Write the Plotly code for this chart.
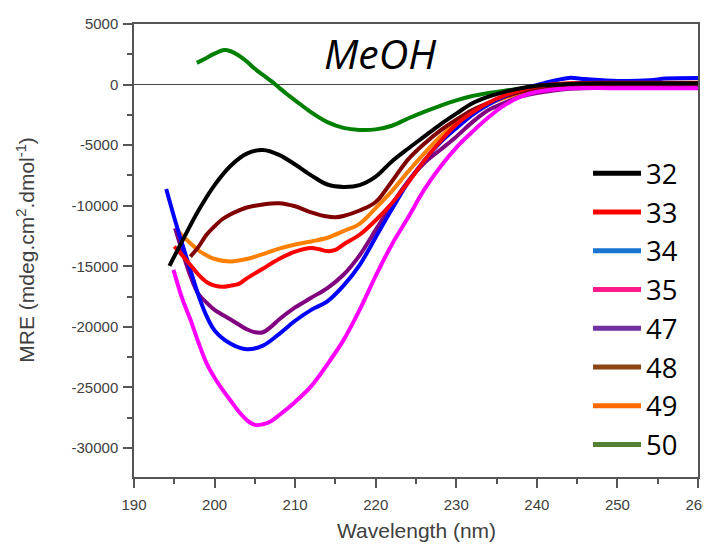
import plotly.graph_objects as go

# CD spectra in methanol, MRE values
labels = ['32', '33', '34', '35', '47', '48', '49', '50']

wl_32 = [194.4, 196, 198, 200, 202, 204, 206, 208, 210, 212, 214, 216, 218, 220, 222, 224,
         226, 228, 230, 232, 234, 236, 238, 240, 244, 248, 252, 256, 260]
mre_32 = [-14970, -12900, -10400, -8300, -6700, -5700, -5400, -5800, -6600, -7500, -8250, -8450,
          -8300, -7600, -6350, -5300, -4300, -3300, -2400, -1550, -1000, -600, -300, -100, 50,
          100, 100, 100, 100]

wl_33 = [195, 196, 197, 198, 199, 200, 201, 202, 203, 204, 206, 208, 210, 212, 213, 214, 215,
         216, 218, 220, 222, 224, 226, 228, 230, 232, 234, 236, 238, 240, 244, 250, 260]
mre_33 = [-13370, -14100, -14900, -15700, -16300, -16600, -16700, -16600, -16450, -16000, -15200,
          -14400, -13800, -13500, -13600, -13750, -13650, -13200, -12400, -11200, -9800, -8100,
          -6300, -4700, -3300, -2300, -1500, -900, -450, -150, 100, 150, 150]

wl_34 = [194, 195, 196, 197, 198, 199, 200, 202, 204, 206, 208, 210, 212, 214, 216, 218, 220,
         222, 224, 226, 228, 230, 232, 234, 236, 238, 240, 242, 244, 246, 250, 254, 256, 260]
mre_34 = [-8630, -11000, -13200, -15300, -17400, -19100, -20300, -21400, -21850, -21550, -20600,
          -19500, -18600, -17900, -16600, -14900, -12600, -10300, -8100, -6300, -4800, -3600,
          -2500, -1650, -950, -400, -50, 300, 550, 450, 300, 350, 500, 550]

wl_35 = [194.9, 196, 197, 198, 199, 200, 201, 202, 203, 204, 205, 206, 207, 208, 210, 212, 214,
         216, 218, 220, 222, 224, 226, 228, 230, 232, 234, 236, 238, 240, 244, 250, 260]
mre_35 = [-15300, -17700, -19400, -21300, -23000, -24200, -25200, -26100, -27000, -27700, -28100,
          -28050, -27800, -27300, -26200, -24900, -23100, -21100, -18600, -15800, -13200, -11000,
          -8700, -6800, -5200, -3900, -2700, -1700, -1000, -600, -300, -300, -300]

wl_47 = [195.1, 196, 197, 198, 199, 200, 202, 204, 205, 206, 207, 208, 210, 212, 214, 216, 218,
         220, 222, 224, 226, 228, 230, 232, 234, 236, 238, 240, 244, 250, 260]
mre_47 = [-11860, -13800, -15800, -17300, -18000, -18600, -19400, -20200, -20450, -20450, -20000,
          -19400, -18400, -17600, -16800, -15700, -14100, -12000, -9900, -8000, -6500, -5400,
          -4300, -3100, -2100, -1500, -1000, -700, -350, -250, -250]

wl_48 = [197, 198, 199, 200, 201, 202, 203, 204, 206, 208, 210, 212, 214, 215, 216, 218, 220,
         222, 224, 226, 228, 230, 232, 234, 236, 238, 240, 244, 250, 260]
mre_48 = [-14200, -13400, -12400, -11700, -11100, -10700, -10400, -10150, -9900, -9800, -10050,
          -10550, -10900, -10950, -10850, -10400, -9700, -8000, -6200, -4900, -3800, -2900,
          -2100, -1500, -1000, -600, -350, -150, -150, -150]

wl_49 = [195.3, 196, 197, 198, 199, 200, 202, 204, 206, 208, 210, 212, 214, 216, 218, 220, 222,
         224, 226, 228, 230, 232, 234, 236, 238, 240, 244, 250, 260]
mre_49 = [-11940, -12500, -13100, -13700, -14100, -14400, -14600, -14400, -14000, -13550, -13200,
          -12950, -12650, -12100, -11500, -10200, -8800, -7200, -5700, -4300, -3200, -2300,
          -1600, -1100, -700, -400, -200, -200, -200]

wl_50 = [197.8, 199, 200, 201.2, 202, 203, 204, 205, 206, 207, 208, 209, 210, 212, 214, 216,
         218, 220, 222, 224, 226, 228, 230, 232, 234, 236, 238, 240, 244, 248, 252, 256, 260]
mre_50 = [1790, 2200, 2550, 2850, 2750, 2400, 1900, 1300, 800, 300, -250, -800, -1300, -2300,
          -3100, -3580, -3750, -3700, -3400, -2800, -2250, -1750, -1300, -950, -700, -500, -350,
          -150, 50, 100, 100, 100, 100]

wavelengths = [wl_32, wl_33, wl_34, wl_35, wl_47, wl_48, wl_49, wl_50]
mre_values = [mre_32, mre_33, mre_34, mre_35, mre_47, mre_48, mre_49, mre_50]

y_ticks = [5000, 0, -5000, -10000, -15000, -20000, -25000, -30000]
y_tick_labels = ['5000', '0', '-5000', '-10000', '-15000', '-20000', '-25000', '-30000']

# curves and legend swatches use slightly different colours in the original
curve_colors = ['#000000', '#ff0000', '#0000ff', '#ff00ff', '#800080', '#800000', '#ff8000',
                '#008000']
legend_colors = ['#000000', '#ff0000', '#1874cd', '#ff1a8c', '#7030a0', '#8b4513', '#ff6a00',
                 '#548235']

fig = go.Figure()

# draw in reverse so that black ends up on top like the original
for i in reversed(range(len(labels))):
    fig.add_trace(go.Scatter(x=wavelengths[i], y=mre_values[i], mode='lines',
                             line=dict(color=curve_colors[i], width=4, shape='spline'),
                             showlegend=False, hoverinfo='x+y', name=labels[i]))

for i in range(len(labels)):
    fig.add_trace(go.Scatter(x=[None], y=[None], mode='lines', name=labels[i],
                             line=dict(color=legend_colors[i], width=5)))

axis_style = dict(showline=True, linecolor='#555555', linewidth=1.5, mirror=True,
                  ticks='outside', ticklen=9, tickwidth=1.5, tickcolor='#555555',
                  showgrid=False, automargin=False,
                  tickfont=dict(family='Liberation Sans', size=15, color='#404040'))

fig.update_xaxes(range=[190, 260], dtick=10, tick0=190, ticklabelstandoff=4,
                 minor=dict(ticks='outside', ticklen=5, tickwidth=1.5, tickcolor='#555555',
                            dtick=5),
                 zeroline=False, **axis_style)
fig.update_yaxes(range=[-32400, 5000], tickvals=y_ticks, ticktext=y_tick_labels,
                 ticklabelstandoff=2,
                 minor=dict(ticks='outside', ticklen=5, tickwidth=1.5, tickcolor='#555555',
                            dtick=2500),
                 zeroline=True, zerolinecolor='#444444', zerolinewidth=1,
                 **axis_style)

# axis titles as annotations so they sit exactly where the original has them
title_font = dict(family='Liberation Sans', size=21, color='#404040')
fig.add_annotation(text='Wavelength (nm)', xref='paper', yref='paper', x=0.5, y=-0.117,
                   showarrow=False, xanchor='center', yanchor='middle', font=title_font)
fig.add_annotation(text='MRE (mdeg.cm<sup>2</sup>.dmol<sup>-1</sup>)', xref='paper',
                   yref='paper', x=-0.193, y=0.5, textangle=-90, showarrow=False,
                   xanchor='center', yanchor='middle', font=title_font)

fig.add_annotation(text='MeOH', xref='paper', yref='paper', x=0.436, y=0.935,
                   showarrow=False, xanchor='center', yanchor='middle',
                   font=dict(family='Open Sans', size=41, style='italic', color='black'))

# page body adds an 8px offset, so the figure is 8px smaller than the window
fig.update_layout(width=703, height=537, plot_bgcolor='white', paper_bgcolor='white',
                  margin=dict(l=126, r=13, t=16, b=68, autoexpand=False),
                  legend=dict(x=0.805, y=0.7244, xanchor='left', yanchor='top',
                              bgcolor='rgba(0,0,0,0)', itemwidth=48,
                              font=dict(family='Open Sans', size=27.5, color='black')))

fig.write_html('out.html')
